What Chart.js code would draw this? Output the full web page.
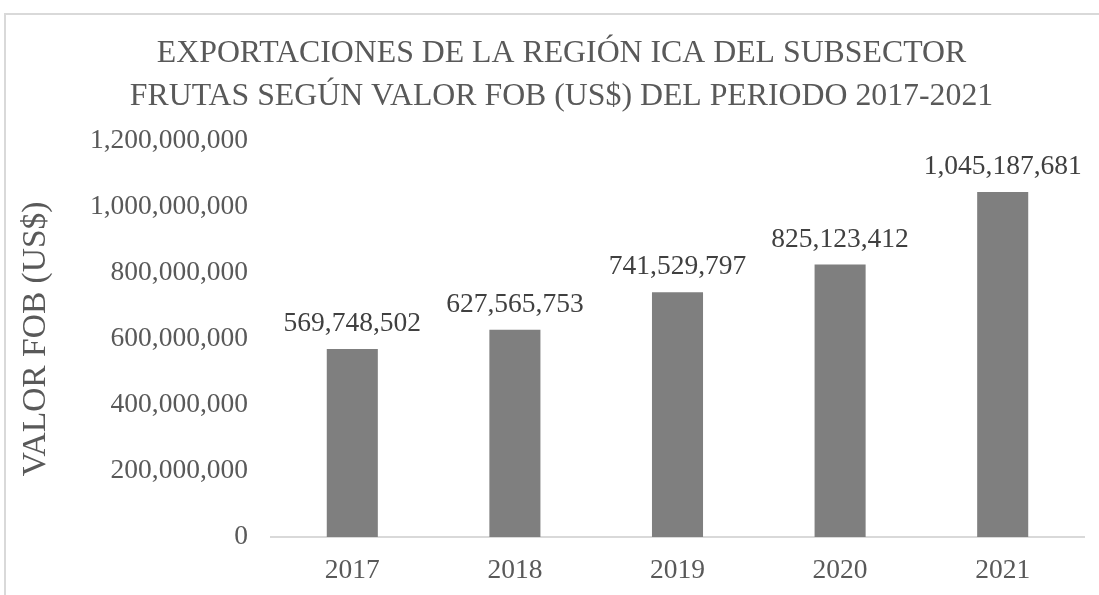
<!DOCTYPE html>
<html>
<head>
<meta charset="utf-8">
<script src="https://cdn.jsdelivr.net/npm/chart.js@4.4.1/dist/chart.umd.min.js"></script>
<style>
  html, body { margin: 0; padding: 0; background: #ffffff; overflow: hidden; }
  #frame { position: absolute; left: 4px; top: 13px; width: 2000px; height: 2000px;
           border-top: 2px solid #d9d9d9; border-left: 2px solid #d9d9d9; }
  #wrap { position: absolute; left: 0; top: 0; width: 1099px; height: 595px; }
</style>
</head>
<body>
<div id="frame"></div>
<div id="wrap"><canvas id="c" width="1099" height="595"></canvas></div>
<script>
const categories = ['2017', '2018', '2019', '2020', '2021'];
const fobValues = [569748502, 627565753, 741529797, 825123412, 1045187681];
const titleLines = ['EXPORTACIONES DE LA REGIÓN ICA DEL SUBSECTOR', 'FRUTAS SEGÚN VALOR FOB (US$) DEL PERIODO 2017-2021'];
const yAxisTitle = 'VALOR FOB (US$)';

const fmt = v => Number(v).toLocaleString('en-US');
const FONT = "'Liberation Serif', 'Times New Roman', serif";

const dataLabels = {
  id: 'dataLabels',
  afterDatasetsDraw(chart) {
    const ctx = chart.ctx;
    const meta = chart.getDatasetMeta(0);
    ctx.save();
    ctx.font = '27.5px ' + FONT;
    ctx.fillStyle = '#404040';
    ctx.textAlign = 'center';
    ctx.textBaseline = 'middle';
    meta.data.forEach((bar, i) => {
      ctx.fillText(fmt(chart.data.datasets[0].data[i]), bar.x, bar.y - 25);
    });
    ctx.restore();
  }
};

new Chart(document.getElementById('c'), {
  type: 'bar',
  data: {
    labels: categories,
    datasets: [{
      data: fobValues,
      backgroundColor: '#7f7f7f',
      borderWidth: 0,
      categoryPercentage: 1.0,
      barPercentage: 0.314
    }]
  },
  options: {
    responsive: false,
    animation: false,
    devicePixelRatio: 1,
    layout: { padding: { left: 39, right: 15, top: 0, bottom: 0 } },
    plugins: {
      legend: { display: false },
      tooltip: { enabled: false },
      title: {
        display: true,
        text: titleLines,
        color: '#595959',
        font: { family: FONT, size: 31.8, weight: 'normal', lineHeight: 1.35 },
        padding: { top: 32, bottom: 23 }
      }
    },
    scales: {
      x: {
        grid: { display: false, drawTicks: false },
        border: { display: true, color: '#d9d9d9', width: 2 },
        ticks: { color: '#595959', font: { family: FONT, size: 27.5 }, padding: 17 },
        afterFit(scale) { scale.height = 58; }
      },
      y: {
        min: 0,
        max: 1200000000,
        grid: { display: false, drawTicks: false },
        border: { display: false },
        ticks: {
          stepSize: 200000000,
          color: '#595959',
          font: { family: FONT, size: 27.5 },
          padding: 23,
          callback: v => fmt(v)
        },
        title: {
          display: true,
          text: yAxisTitle,
          color: '#595959',
          font: { family: FONT, size: 33.5, weight: 'normal', lineHeight: 1.2 },
          padding: { top: -23, bottom: 0 }
        },
        afterFit(scale) { scale.width = 271 - 39; }
      }
    }
  },
  plugins: [dataLabels]
});
</script>
</body>
</html>
